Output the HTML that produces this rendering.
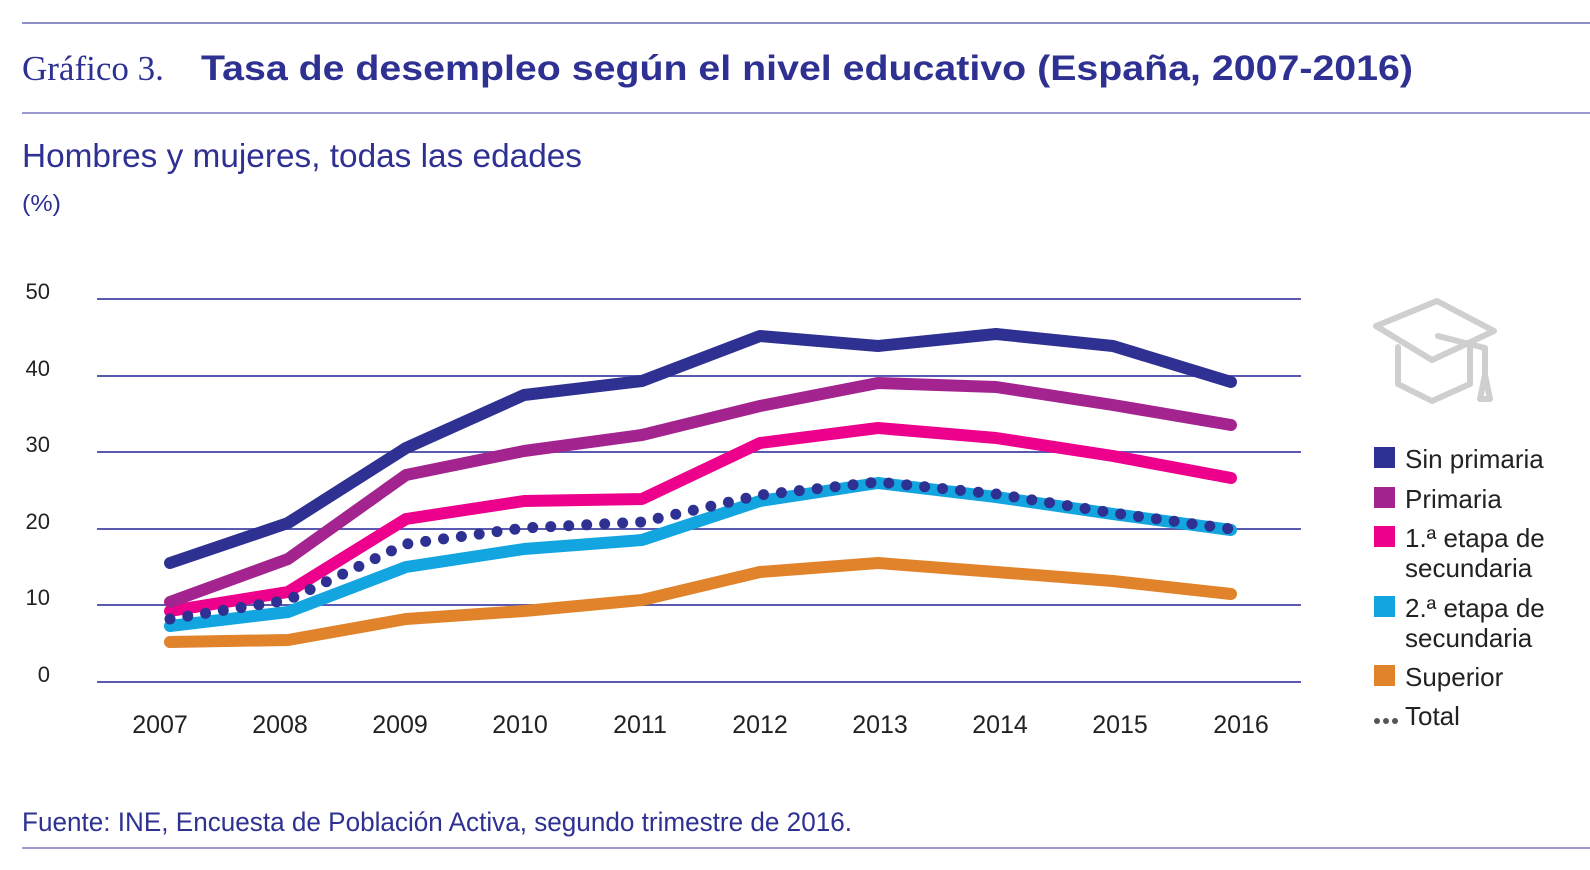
<!DOCTYPE html>
<html><head><meta charset="utf-8"><style>
html,body{margin:0;padding:0;background:#fff;}
svg{display:block;}
text{font-family:"Liberation Sans",sans-serif;}
</style></head><body>
<svg width="1590" height="870" viewBox="0 0 1590 870" xmlns="http://www.w3.org/2000/svg">
<line x1="22" y1="23" x2="1590" y2="23" stroke="#6a6ab8" stroke-width="1.5"/>
<line x1="22" y1="113" x2="1590" y2="113" stroke="#9a9ad0" stroke-width="2"/>
<line x1="22" y1="848" x2="1590" y2="848" stroke="#9a9ad0" stroke-width="2"/>
<text x="22" y="80" font-size="35" fill="#2e3192" style="font-family:'Liberation Serif',serif">Gráfico 3.</text>
<text x="201" y="80" font-size="35" font-weight="bold" fill="#2e3192" textLength="1212" lengthAdjust="spacingAndGlyphs">Tasa de desempleo según el nivel educativo (España, 2007-2016)</text>
<text x="22" y="167" font-size="33" fill="#2e3192" textLength="560" lengthAdjust="spacingAndGlyphs">Hombres y mujeres, todas las edades</text>
<text x="22" y="211" font-size="23" fill="#2e3192" textLength="39" lengthAdjust="spacingAndGlyphs">(%)</text>
<text x="22" y="831" font-size="27" fill="#2e3192" textLength="830" lengthAdjust="spacingAndGlyphs">Fuente: INE, Encuesta de Población Activa, segundo trimestre de 2016.</text>
<g stroke="#5a5ab0" stroke-width="2">
<line x1="97" y1="299" x2="1301" y2="299"/><line x1="97" y1="376" x2="1301" y2="376"/>
<line x1="97" y1="452" x2="1301" y2="452"/><line x1="97" y1="529" x2="1301" y2="529"/>
<line x1="97" y1="605" x2="1301" y2="605"/><line x1="97" y1="682" x2="1301" y2="682"/>
</g>
<g font-size="22" fill="#222" text-anchor="end">
<text x="50" y="299">50</text><text x="50" y="376">40</text><text x="50" y="452">30</text>
<text x="50" y="529">20</text><text x="50" y="605">10</text><text x="50" y="682">0</text>
</g>
<g font-size="25" fill="#222" text-anchor="middle">
<text x="160" y="733">2007</text><text x="280" y="733">2008</text><text x="400" y="733">2009</text>
<text x="520" y="733">2010</text><text x="640" y="733">2011</text><text x="760" y="733">2012</text>
<text x="880" y="733">2013</text><text x="1000" y="733">2014</text><text x="1120" y="733">2015</text>
<text x="1241" y="733">2016</text>
</g>
<g fill="none" stroke-width="12" stroke-linecap="round" stroke-linejoin="round">
<polyline stroke="#e0832a" points="170,642 288,640 406,619 524,611 642,600 760,572 878,563 996,572 1113,581 1231,594"/>
<polyline stroke="#12a5e0" points="170,626 288,612 406,567 524,549 642,540 760,501 878,483 996,497 1113,514 1231,530"/>
<polyline stroke="#ec008c" points="170,611 288,592 406,519 524,501 642,499 760,443 878,428 996,438 1113,456 1231,478"/>
<polyline stroke="#a3248f" points="170,602 288,559 406,475 524,451 642,435 760,406 878,383 996,387 1113,405 1231,425"/>
<polyline stroke="#2e3192" points="170,563 288,523 406,448 524,395 642,381 760,336 878,346 996,334 1113,346 1231,382"/>
<polyline stroke="#2e3192" stroke-width="11" stroke-dasharray="0 18" points="170,619 288,600 406,544 524,528 642,522 760,495 878,482 996,494 1113,513 1231,529"/>
</g>
<g fill="none" stroke="#cfcfcf" stroke-width="6" stroke-linejoin="round" stroke-linecap="round">
<path d="M1376,326 L1437,301 L1494,331 L1432,360 Z"/>
<path d="M1398,347 L1398,384 L1432,401 L1470,384 L1470,345"/>
<path d="M1438,336 L1485,348 L1485,375"/>
<path d="M1485,375 L1480,399 L1490,399 Z"/>
</g>
<g font-size="26" fill="#222">
<rect x="1374" y="447" width="21" height="21" fill="#2e3192"/><text x="1405" y="468">Sin primaria</text>
<rect x="1374" y="487" width="21" height="21" fill="#a3248f"/><text x="1405" y="508">Primaria</text>
<rect x="1374" y="526" width="21" height="21" fill="#ec008c"/><text x="1405" y="547">1.ª etapa de</text><text x="1405" y="577">secundaria</text>
<rect x="1374" y="596" width="21" height="21" fill="#12a5e0"/><text x="1405" y="617">2.ª etapa de</text><text x="1405" y="647">secundaria</text>
<rect x="1374" y="665" width="21" height="21" fill="#e0832a"/><text x="1405" y="686">Superior</text>
<circle cx="1377" cy="721" r="3" fill="#555"/><circle cx="1386" cy="721" r="3" fill="#555"/><circle cx="1395" cy="721" r="3" fill="#555"/>
<text x="1405" y="725">Total</text>
</g>
</svg>
</body></html>
